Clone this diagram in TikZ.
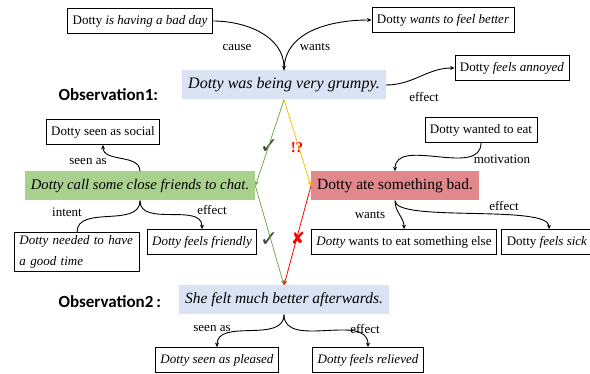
\documentclass[tikz,border=0pt]{standalone}
\usepackage{fontspec}
\setmainfont{Liberation Serif}
\newfontfamily\obsfont{Carlito}
\newfontfamily\symfont{DejaVu Sans}
\usetikzlibrary{arrows.meta}
\definecolor{obsblue}{RGB}{218,227,243}
\definecolor{goodgreen}{RGB}{169,209,142}
\definecolor{badred}{RGB}{224,136,140}
\definecolor{linegreen}{RGB}{112,173,71}
\definecolor{lineyellow}{RGB}{255,192,0}
\definecolor{markgray}{RGB}{70,70,70}
\begin{document}
\begin{tikzpicture}[x=1pt,y=-1pt,
  box/.style={draw, line width=0.8pt, inner xsep=5pt, minimum height=25pt, font=\fontsize{13}{15}\selectfont},
  event/.style={inner xsep=6pt, minimum height=29pt, font=\fontsize{15.5}{18}\selectfont},
  lab/.style={font=\fontsize{13}{15}\selectfont},
  obs/.style={anchor=west, font=\obsfont\bfseries\fontsize{17}{20}\selectfont},
  rel/.style={line width=0.9pt, -{Stealth[length=4.5pt,width=4pt]}},
  link/.style={line width=0.8pt, -{Stealth[length=5pt,width=4pt]}},
  tick/.style={font=\symfont\fontsize{22}{24}\selectfont}]
\useasboundingbox (0,0) rectangle (590,374);

\node[box] (bad) at (140,21) {Dotty \textit{is having a bad day}};
\node[box] (better) at (443,20) {Dotty \textit{wants to feel better}};
\node[event, fill=obsblue, font=\fontsize{16}{18}\selectfont] (o1) at (284,85) {\textit{Dotty was being very grumpy.}};
\node[obs] (obs1) at (55,95) {Observation1:};
\node[box] (annoyed) at (512,68) {Dotty \textit{feels annoyed}};

\node[box] (social) at (103,132) {Dotty seen as social};
\node[event, fill=goodgreen, font=\fontsize{14.7}{17}\selectfont] (h1) at (140,186) {\textit{Dotty call some close friends to chat.}};
\node[box, align=left, text width=115pt, inner ysep=3pt, font=\fontsize{13}{21}\selectfont] (needed) at (77,252) {\textit{Dotty needed to have}\\\textit{a good time}};
\node[box] (friendly) at (202,242) {\textit{Dotty feels friendly}};

\node[box] (wanted) at (481,130) {Dotty wanted to eat};
\node[event, fill=badred] (h2) at (395,186) {Dotty ate something bad.};
\node[box] (else) at (404,242) {\textit{Dotty} wants to eat something else};
\node[box] (sick) at (547,242) {Dotty \textit{feels sick}};

\node[event, fill=obsblue] (o2) at (284,300) {\textit{She felt much better afterwards.}};
\node[obs] (obs2) at (55,302) {Observation2\,:};
\node[box] (pleased) at (217,360) {\textit{Dotty seen as pleased}};
\node[box] (relieved) at (368,360) {\textit{Dotty feels relieved}};

% relation labels
\node[lab] (l1) at (237,48) {cause};
\node[lab] (l2) at (315,47) {wants};
\node[lab] (l3) at (424,97) {effect};
\node[lab] (l4) at (88,162) {seen as};
\node[lab] (l5) at (67,212) {intent};
\node[lab] (l6) at (212,210) {effect};
\node[lab] (l7) at (502,159) {motivation};
\node[lab] (l8) at (370,215) {wants};
\node[lab] (l9) at (504,206) {effect};
\node[lab] (l10) at (212,329) {seen as};
\node[lab] (l11) at (365,329) {effect};

% marks on the links
\node[tick, text=markgray] (m1) at (269,147) {✓};
\node[tick, text=red, font=\bfseries\fontsize{15}{17}\selectfont] (m2) at (297,148) {!?};
\node[tick, text=markgray] (m3) at (269,240) {✓};
\node[tick, text=red, font=\symfont\fontsize{17}{19}\selectfont] (m4) at (298,238) {✘};

\draw[rel] (bad.east) to[out=0, in=90] (o1.north);
\draw[rel] (o1.north) to[out=90, in=180] (better.west);
\draw[rel] (o1.east) to[out=0, in=180] (annoyed.west);

\draw[rel] (h1.north) to[out=90, in=-90] (social.south);
\draw[line width=0.9pt] (h1.south) to[out=-90, in=90] (needed.north);
\draw[rel] (h1.south) to[out=-90, in=90] (friendly.north);

\draw[rel] (wanted.south) to[out=-90, in=90] (h2.north);
\draw[rel] (h2.south) to[out=-90, in=90] (else.north);
\draw[rel] (h2.south) to[out=-90, in=90, out distance=22pt, in distance=25pt] ([xshift=2pt]sick.north);

\draw[rel] (o2.south) to[out=-90, in=90] (pleased.north);
\draw[rel] (o2.south) to[out=-90, in=90] (relieved.north);

\draw[link, linegreen] (o1.south) -- (h1.east);
\draw[link, lineyellow] (o1.south) -- (h2.west);
\draw[link, linegreen] (h1.east) -- (o2.north);
\draw[link, red] (h2.west) -- (o2.north);
\end{tikzpicture}
\end{document}
